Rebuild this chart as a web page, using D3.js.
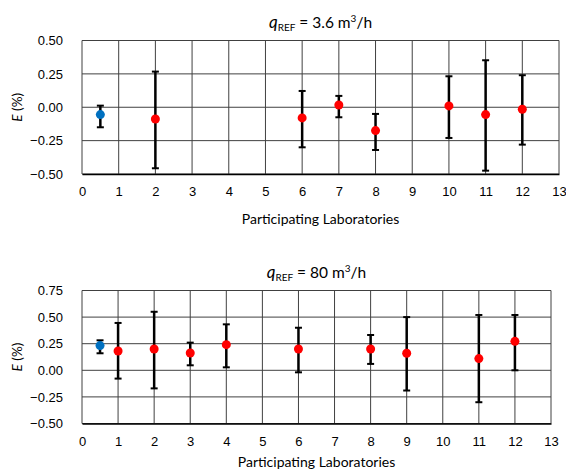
<!DOCTYPE html>
<html>
<head>
<meta charset="utf-8">
<script src="https://cdn.jsdelivr.net/npm/d3@7"></script>
<style>
  body { margin: 0; background: #fff; }
  svg { display: block; font-family: Lato, "Open Sans", sans-serif; }
  .tick text { font-size: 13px; fill: #000; }
</style>
</head>
<body>
<script>
// x positions: 0.5 is the reference lab, others are participants
var xTicks = [0,1,2,3,4,5,6,7,8,9,10,11,12,13];

// q_REF = 3.6 m3/h
var refA = {x: 0.5, e: -0.055, lo: -0.15, hi: 0.012};
var labsA = [2, 6, 7, 8, 10, 11, 12];
var errA  = [-0.088, -0.08, 0.017, -0.175, 0.01, -0.055, -0.015];
var loA   = [-0.457, -0.30, -0.075, -0.32, -0.23, -0.475, -0.28];
var hiA   = [0.267, 0.122, 0.085, -0.05, 0.232, 0.352, 0.24];
var yTicksA = [-0.5, -0.25, 0, 0.25, 0.5];

// q_REF = 80 m3/h
var refB = {x: 0.5, e: 0.232, lo: 0.16, hi: 0.282};
var labsB = [1, 2, 3, 4, 6, 8, 9, 11, 12];
var errB  = [0.181, 0.2, 0.163, 0.241, 0.2, 0.2, 0.16, 0.11, 0.272];
var loB   = [-0.078, -0.17, 0.047, 0.028, -0.019, 0.06, -0.19, -0.30, 0.0];
var hiB   = [0.445, 0.55, 0.26, 0.432, 0.40, 0.332, 0.50, 0.52, 0.52];
var yTicksB = [-0.5, -0.25, 0, 0.25, 0.5, 0.75];

var svg = d3.select('body').append('svg')
  .attr('width', 566)
  .attr('height', 472);

function drawPanel(p) {
  var x = d3.scaleLinear().domain([0, 13]).range([p.left, p.right]);
  var y = d3.scaleLinear().domain(d3.extent(p.yTicks)).range([p.bottom, p.top]);
  var g = svg.append('g');

  // grid
  g.append('g').selectAll('line.v')
    .data(xTicks)
    .enter().append('line')
    .attr('x1', function (d) { return x(d); })
    .attr('x2', function (d) { return x(d); })
    .attr('y1', p.top).attr('y2', p.bottom)
    .attr('stroke', '#404040').attr('stroke-width', 1);

  g.append('g').selectAll('line.h')
    .data(p.yTicks)
    .enter().append('line')
    .attr('x1', p.left).attr('x2', p.right)
    .attr('y1', function (d) { return y(d); })
    .attr('y2', function (d) { return y(d); })
    .attr('stroke', '#404040').attr('stroke-width', 1);

  // axes
  var xAxis = d3.axisBottom(x).tickValues(xTicks).tickSize(0).tickPadding(13)
    .tickFormat(d3.format('d'));
  g.append('g')
    .attr('transform', 'translate(0,' + p.bottom + ')')
    .call(xAxis)
    .call(function (a) { a.select('.domain').attr('stroke', '#000').attr('stroke-width', 1.5); });

  var yAxis = d3.axisLeft(y).tickValues(p.yTicks).tickSize(0).tickPadding(19)
    .tickFormat(d3.format('.2f'));
  g.append('g')
    .attr('transform', 'translate(' + p.left + ',0)')
    .call(yAxis)
    .call(function (a) { a.select('.domain').remove(); });

  // error bars
  var pts = p.labs.map(function (l, i) {
    return {x: l, e: p.err[i], lo: p.lo[i], hi: p.hi[i], ref: false};
  });
  pts.unshift({x: p.ref.x, e: p.ref.e, lo: p.ref.lo, hi: p.ref.hi, ref: true});

  var bars = g.append('g').selectAll('g').data(pts).enter().append('g');
  bars.append('line')
    .attr('x1', function (d) { return x(d.x); })
    .attr('x2', function (d) { return x(d.x); })
    .attr('y1', function (d) { return y(d.lo); })
    .attr('y2', function (d) { return y(d.hi); })
    .attr('stroke', '#000').attr('stroke-width', 2.5);
  ['lo', 'hi'].forEach(function (k) {
    bars.append('line')
      .attr('x1', function (d) { return x(d.x) - 3.5; })
      .attr('x2', function (d) { return x(d.x) + 3.5; })
      .attr('y1', function (d) { return y(d[k]); })
      .attr('y2', function (d) { return y(d[k]); })
      .attr('stroke', '#000').attr('stroke-width', 2);
  });
  bars.append('circle')
    .attr('cx', function (d) { return x(d.x); })
    .attr('cy', function (d) { return y(d.e); })
    .attr('r', 4.5)
    .attr('fill', function (d) { return d.ref ? '#0070c0' : '#ff0000'; });

  // title
  var cx = (p.left + p.right) / 2;
  var t = g.append('text')
    .attr('x', cx).attr('y', p.top - 13)
    .attr('text-anchor', 'middle')
    .attr('font-size', 15.5);
  t.append('tspan').attr('font-style', 'italic').attr('font-size', 17).text('q');
  t.append('tspan').attr('font-size', 10).attr('dy', 3).text('REF');
  t.append('tspan').attr('dy', -3).text(' = ' + p.flow + ' m');
  t.append('tspan').attr('font-size', 10).attr('dy', -6).text('3');
  t.append('tspan').attr('dy', 6).text('/h');

  // axis titles
  g.append('text')
    .attr('x', cx).attr('y', Math.min(p.bottom + 50, 467))
    .attr('text-anchor', 'middle')
    .attr('font-size', 14)
    .text('Participating Laboratories');

  var ya = g.append('text')
    .attr('transform', 'translate(22,' + ((p.top + p.bottom) / 2) + ') rotate(-90)')
    .attr('text-anchor', 'middle')
    .attr('font-size', 13.5);
  ya.append('tspan').attr('font-style', 'italic').text('E');
  ya.append('tspan').text(' (%)');
}

drawPanel({left: 82, right: 559, top: 40.5, bottom: 174, yTicks: yTicksA,
  ref: refA, labs: labsA, err: errA, lo: loA, hi: hiA, flow: '3.6'});
drawPanel({left: 82, right: 551, top: 290.5, bottom: 423.5, yTicks: yTicksB,
  ref: refB, labs: labsB, err: errB, lo: loB, hi: hiB, flow: '80'});
</script>
</body>
</html>
